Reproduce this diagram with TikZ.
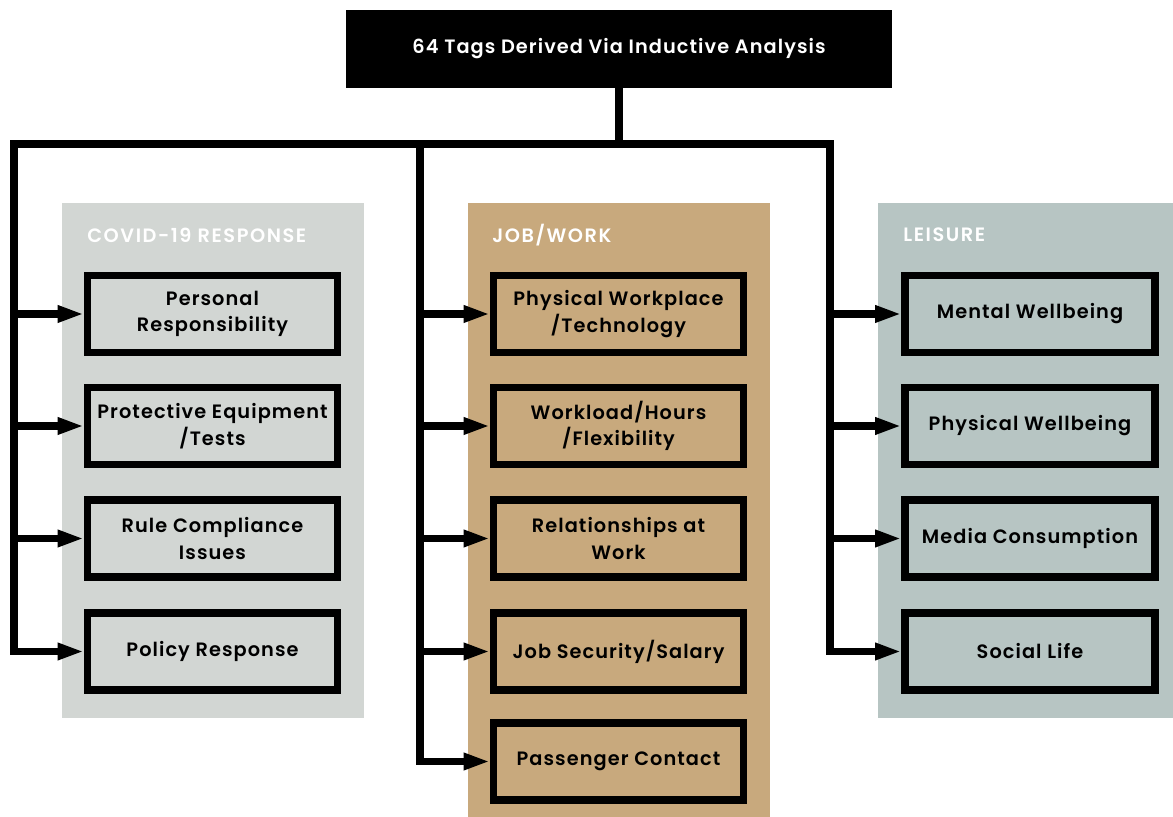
\documentclass[tikz,border=0pt]{standalone}
\usepackage{fontspec}
\setmainfont{Poppins}
\newfontfamily\tagfont{Poppins SemiBold}[LetterSpace=5.5]
\newfontfamily\titlefont{Poppins SemiBold}[LetterSpace=8]
\usetikzlibrary{arrows.meta}
\definecolor{covidgray}{RGB}{210,214,211}
\definecolor{jobtan}{RGB}{200,169,125}
\definecolor{leisuregreen}{RGB}{183,197,195}
\tikzset{
  tagbox/.style={draw=black, line width=4pt, minimum width=50mm, minimum height=15.4mm,
    inner sep=0pt, align=center, font=\tagfont\fontsize{11}{15}\selectfont},
  branch/.style={line width=4pt, line cap=rect, line join=miter},
  toarrow/.style={line width=4pt, -{Triangle[length=15pt,width=9pt]}},
  paneltitle/.style={anchor=west, text=white, inner sep=0pt, font=\titlefont\fontsize{11}{12}\selectfont}
}

\begin{document}
\begin{tikzpicture}[x=0.2mm, y=-0.2mm]
  \useasboundingbox (0,0) rectangle (1173,817);
  % the three panels
  \fill[covidgray] (62,203) rectangle (364,718);
  \fill[jobtan] (468,203) rectangle (770,817);
  \fill[leisuregreen] (878,203) rectangle (1173,718);
  \node[paneltitle] (covidtitle) at (87,235) {COVID-19 RESPONSE};
  \node[paneltitle] (jobtitle) at (492,235) {JOB/WORK};
  \node[paneltitle] (leisuretitle) at (903,235) {LEISURE};

  % top box
  \node[fill=black, minimum width=109.2mm, minimum height=15.6mm, inner sep=0pt,
    text=white, font=\tagfont\fontsize{11}{13}\selectfont] (top) at (619,49)
    {64 Tags Derived Via Inductive Analysis};

  % tags
  \node[tagbox, fill=covidgray] (c1) at (212.5,314) {Personal\\Responsibility};
  \node[tagbox, fill=covidgray] (c2) at (212.5,426) {Protective Equipment\\/Tests};
  \node[tagbox, fill=covidgray] (c3) at (212.5,538.5) {Rule Compliance\\Issues};
  \node[tagbox, fill=covidgray] (c4) at (212.5,651.5) {Policy Response};

  \node[tagbox, fill=jobtan] (j1) at (618.5,314) {Physical Workplace\\/Technology};
  \node[tagbox, fill=jobtan] (j2) at (618.5,426) {Workload/Hours\\/Flexibility};
  \node[tagbox, fill=jobtan] (j3) at (618.5,538.5) {Relationships at\\Work};
  \node[tagbox, fill=jobtan] (j4) at (618.5,651.5) {Job Security/Salary};
  \node[tagbox, fill=jobtan] (j5) at (618.5,761.5) {Passenger Contact};

  \node[tagbox, fill=leisuregreen] (l1) at (1030,314) {Mental Wellbeing};
  \node[tagbox, fill=leisuregreen] (l2) at (1030,426) {Physical Wellbeing};
  \node[tagbox, fill=leisuregreen] (l3) at (1030,538.5) {Media Consumption};
  \node[tagbox, fill=leisuregreen] (l4) at (1030,651.5) {Social Life};

  % tree
  \coordinate (lt) at (14,144);
  \coordinate (mt) at (420,144);
  \coordinate (rt) at (830,144);
  \draw[branch] (top.south) -- (top.south |- mt);
  \draw[branch] (lt |- c4.west) -- (lt) -- (rt) -- (rt |- l4.west);
  \draw[branch] (mt) -- (mt |- j5.west);
  \foreach \n in {c1,c2,c3,c4}
    \draw[toarrow] (lt |- \n.west) -- (\n.west);
  \foreach \n in {j1,j2,j3,j4,j5}
    \draw[toarrow] (mt |- \n.west) -- (\n.west);
  \foreach \n in {l1,l2,l3,l4}
    \draw[toarrow] (rt |- \n.west) -- (\n.west);
\end{tikzpicture}
\end{document}
